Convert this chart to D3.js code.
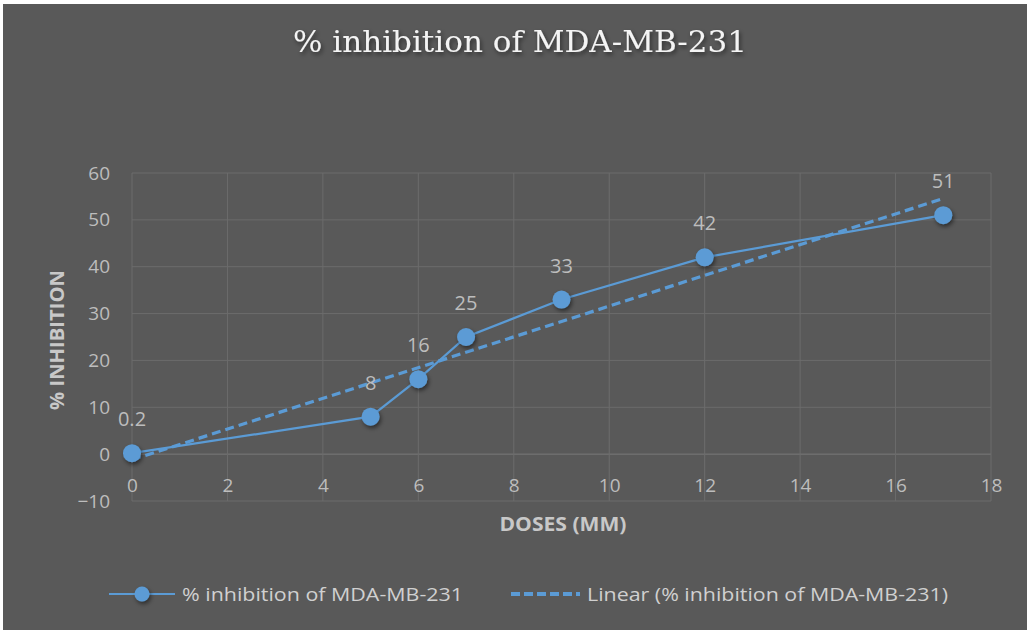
<!DOCTYPE html>
<html>
<head>
<meta charset="utf-8">
<script src="https://cdn.jsdelivr.net/npm/d3@7"></script>
<style>
  body { margin: 0; background: #ffffff; }
  svg { display: block; }
</style>
</head>
<body>
<div id="chart"></div>
<script>

// Chart data
var doses = [0, 5, 6, 7, 9, 12, 17];
var inhibition = [0.2, 8, 16, 25, 33, 42, 51];
var pointLabels = ["0.2", "8", "16", "25", "33", "42", "51"];
var xTicks = [0, 2, 4, 6, 8, 10, 12, 14, 16, 18];
var yTicks = [-10, 0, 10, 20, 30, 40, 50, 60];

var chartTitle = "% inhibition of MDA-MB-231";
var seriesName = "% inhibition of MDA-MB-231";
var trendName = "Linear (% inhibition of MDA-MB-231)";

var width = 1027,
height = 630;

var blue = "#5b9bd5";
var bg = "#595959";
var labelClr = "#bdbdbd";

// Plot area bounds (don't call these top/left: window.top is reserved)
var plotLeft = 132, plotRight = 991, plotTop = 173, plotBottom = 501;

var svg = d3.select("#chart")
.append("svg")
.attr("width", width)
.attr("height", height);

// Shadow used by the title and the markers
var defs = svg.append("defs");
var shadow = defs.append("filter")
.attr("id", "shadow")
.attr("x", "-50%").attr("y", "-50%")
.attr("width", "200%").attr("height", "200%");
shadow.append("feDropShadow")
.attr("dx", 1.5).attr("dy", 2.5)
.attr("stdDeviation", 2)
.attr("flood-color", "#000")
.attr("flood-opacity", 0.5);

// Dark chart background with a thin white edge at top and left
svg.append("rect")
.attr("x", 3)
.attr("y", 4)
.attr("width", width - 3)
.attr("height", height - 4)
.attr("fill", bg);

var x = d3.scaleLinear()
.domain([0, 18])
.range([plotLeft, plotRight]);

var y = d3.scaleLinear()
.domain([-10, 60])
.range([plotBottom, plotTop]);

// Gridlines
var grid = svg.append("g").attr("class", "grid");

grid.selectAll("line.h")
.data(yTicks)
.enter().append("line")
.attr("class", "h")
.attr("x1", x(0))
.attr("x2", x(18))
.attr("y1", d => y(d))
.attr("y2", d => y(d))
.attr("stroke", d => d == 0 ? "#7a7a7a" : "#6c6c6c")
.style("stroke-width", 1);

grid.selectAll("line.v")
.data(xTicks)
.enter().append("line")
.attr("class", "v")
.attr("x1", d => x(d))
.attr("x2", d => x(d))
.attr("y1", y(60))
.attr("y2", y(-10))
.attr("stroke", "#6c6c6c")
.style("stroke-width", 1);

// Y axis tick labels
var yAxis = svg.append("g")
.attr("transform", "translate(" + (plotLeft - 22) + ",0)")
.call(d3.axisLeft(y).tickValues(yTicks).tickSize(0).tickPadding(0));
yAxis.select(".domain").remove();
yAxis.selectAll("text")
.attr("fill", labelClr)
.style("font-family", "'Open Sans', sans-serif")
.style("font-size", "19px");

// X axis tick labels sit just below the zero line
var xAxis = svg.append("g")
.attr("transform", "translate(0," + (y(0) + 31) + ")")
.call(d3.axisBottom(x).tickValues(xTicks).tickSize(0).tickPadding(0));
xAxis.select(".domain").remove();
xAxis.selectAll("text")
.attr("fill", labelClr)
.attr("dy", "0.35em")
.attr("y", 0)
.style("font-family", "'Open Sans', sans-serif")
.style("font-size", "19px");

// Axis titles
svg.append("text")
.attr("x", 563)
.attr("y", 531)
.attr("text-anchor", "middle")
.attr("fill", "#c8c8c8")
.attr("textLength", 127)
.attr("lengthAdjust", "spacingAndGlyphs")
.style("font-family", "'Open Sans', sans-serif")
.style("font-weight", "bold")
.style("font-size", "19px")
.text("DOSES (MM)");

svg.append("text")
.attr("transform", "translate(64,340) rotate(-90)")
.attr("text-anchor", "middle")
.attr("fill", "#c8c8c8")
.attr("textLength", 140)
.attr("lengthAdjust", "spacingAndGlyphs")
.style("font-family", "'Open Sans', sans-serif")
.style("font-weight", "bold")
.style("font-size", "19px")
.text("% INHIBITION");

// Title
svg.append("text")
.attr("x", 520)
.attr("y", 52)
.attr("text-anchor", "middle")
.attr("fill", "#f4f4f4")
.attr("filter", "url(#shadow)")
.attr("textLength", 454)
.attr("lengthAdjust", "spacingAndGlyphs")
.style("font-family", "'DejaVu Serif', serif")
.style("font-size", "29px")
.text(chartTitle);

// Linear trendline from least squares on the data
var mx = d3.mean(doses), my = d3.mean(inhibition);
var sxy = d3.sum(doses, (d, i) => (d - mx) * (inhibition[i] - my));
var sxx = d3.sum(doses, d => (d - mx) * (d - mx));
var slope = sxy / sxx;
var intercept = my - slope * mx;
var xMin = d3.min(doses), xMax = d3.max(doses);

svg.append("line")
.attr("x1", x(xMin))
.attr("y1", y(intercept + slope * xMin))
.attr("x2", x(xMax))
.attr("y2", y(intercept + slope * xMax))
.attr("stroke", blue)
.attr("stroke-dasharray", "9,5")
.style("stroke-width", 3.2);

// Series line
var points = doses.map((d, i) => ({ x: d, y: inhibition[i], label: pointLabels[i] }));

svg.append("path")
.datum(points)
.attr("fill", "none")
.attr("stroke", blue)
.style("stroke-width", 2.2)
.attr("d", d3.line().x(d => x(d.x)).y(d => y(d.y)));

// Markers
svg.append("g")
.selectAll("circle")
.data(points)
.enter().append("circle")
.attr("cx", d => x(d.x))
.attr("cy", d => y(d.y))
.attr("r", 9)
.attr("fill", blue)
.attr("filter", "url(#shadow)");

// Data labels above the points
svg.append("g")
.selectAll("text")
.data(points)
.enter().append("text")
.attr("x", d => x(d.x))
.attr("y", d => y(d.y) - 27)
.attr("text-anchor", "middle")
.attr("fill", labelClr)
.style("font-family", "'Open Sans', sans-serif")
.style("font-size", "20px")
.text(d => d.label);

// Legend
var legend = svg.append("g")
.attr("transform", "translate(0,594)");

legend.append("line")
.attr("x1", 109).attr("x2", 175)
.attr("y1", 0).attr("y2", 0)
.attr("stroke", blue)
.style("stroke-width", 2.2);

legend.append("circle")
.attr("cx", 142).attr("cy", 0)
.attr("r", 7.5)
.attr("fill", blue)
.attr("filter", "url(#shadow)");

legend.append("text")
.attr("x", 182).attr("y", 7)
.attr("fill", "#d0d0d0")
.attr("textLength", 281)
.attr("lengthAdjust", "spacingAndGlyphs")
.style("font-family", "'Open Sans', sans-serif")
.style("font-size", "19px")
.text(seriesName);

legend.append("line")
.attr("x1", 511).attr("x2", 580)
.attr("y1", 0).attr("y2", 0)
.attr("stroke", blue)
.attr("stroke-dasharray", "9,4")
.style("stroke-width", 4);

legend.append("text")
.attr("x", 587).attr("y", 7)
.attr("fill", "#d0d0d0")
.attr("textLength", 361)
.attr("lengthAdjust", "spacingAndGlyphs")
.style("font-family", "'Open Sans', sans-serif")
.style("font-size", "19px")
.text(trendName);

</script>
</body>
</html>
